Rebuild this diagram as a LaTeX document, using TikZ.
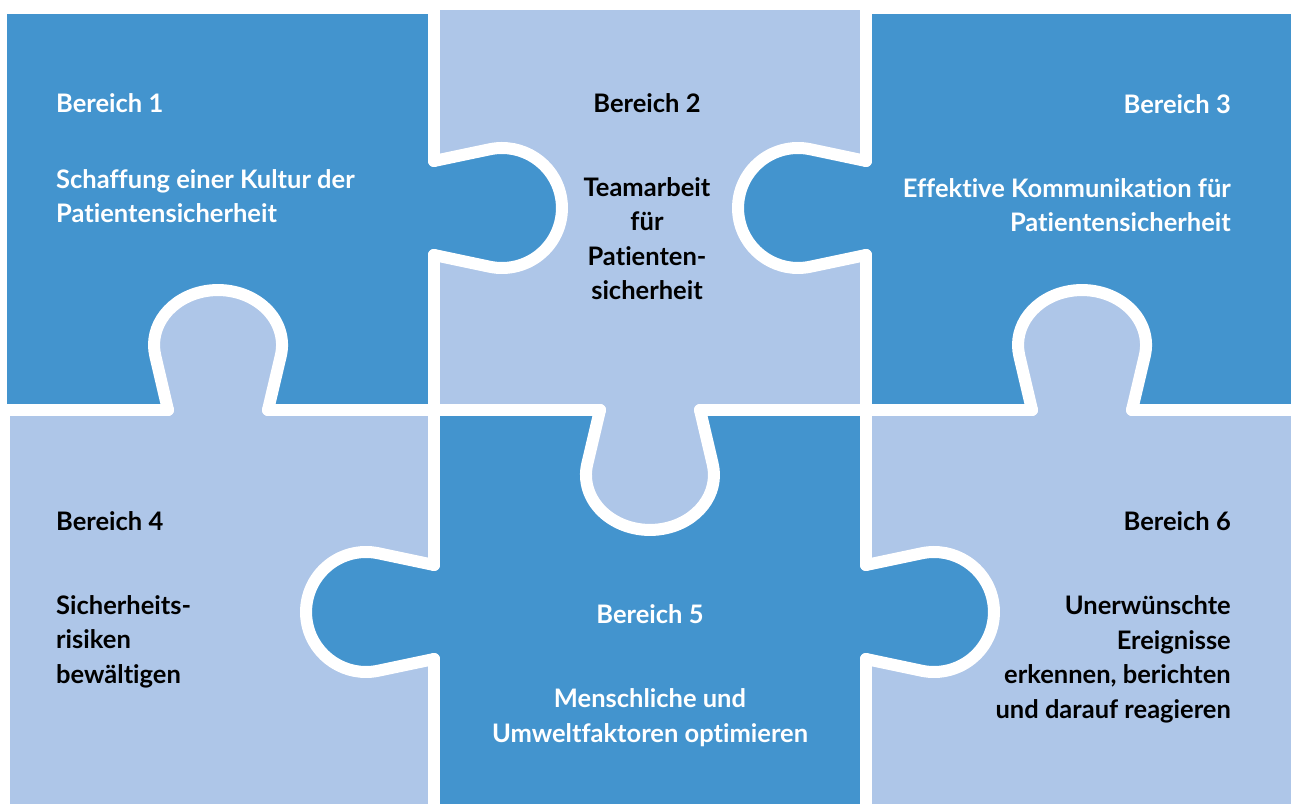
\documentclass[tikz,border=0pt]{standalone}
\usepackage{fontspec}
\setmainfont{Lato}[Ligatures=NoCommon]
\definecolor{pieceDark}{RGB}{67,148,206}
\definecolor{pieceLight}{RGB}{174,198,232}
\tikzset{
  seam/.style={white, line width=12pt, line cap=round, line join=round},
  areatext/.style={font=\bfseries\fontsize{25.5}{34.5}\selectfont, inner sep=0pt},
  sidetab/.pic={
    \fill[pic actions] (0,47) -- (55.6,58.7) arc[start angle=101.9, end angle=-101.9, radius=60] -- (0,-47) -- cycle;
    \draw[seam] (0,47) -- (55.6,58.7) arc[start angle=101.9, end angle=-101.9, radius=60] -- (0,-47);
  },
  knob/.pic={
    \fill[pic actions] (0,50) -- (54.1,62.7) arc[start angle=101.4, end angle=-101.4, x radius=55, y radius=64] -- (0,-50) -- cycle;
    \draw[seam] (0,50) -- (54.1,62.7) arc[start angle=101.4, end angle=-101.4, x radius=55, y radius=64] -- (0,-50);
  }
}
\begin{document}
\begin{tikzpicture}[x=1pt, y=1pt]
\useasboundingbox[fill=white] (0,0) rectangle (1291,804);
% the six cells
\fill[pieceDark] (7,394) rectangle (434,790);
\fill[pieceLight] (434,394) rectangle (866,794);
\fill[pieceDark] (866,394) rectangle (1291,790);
\fill[pieceLight] (10,0) rectangle (434,394);
\fill[pieceDark] (434,0) rectangle (866,394);
\fill[pieceLight] (866,0) rectangle (1291,394);
% tabs and knobs
\pic[fill=pieceDark] at (434,596) {sidetab};
\pic[fill=pieceDark, rotate=180] at (866,596) {sidetab};
\pic[fill=pieceDark, rotate=180] at (434,192) {sidetab};
\pic[fill=pieceDark] at (866,192) {sidetab};
\pic[fill=pieceLight, rotate=90] at (218,394) {knob};
\pic[fill=pieceLight, rotate=-90] at (650,394) {knob};
\pic[fill=pieceLight, rotate=90] at (1082,394) {knob};
% straight seams
\draw[seam] (434,804) -- (434,643) (434,549) -- (434,239) (434,145) -- (434,0);
\draw[seam] (866,804) -- (866,643) (866,549) -- (866,239) (866,145) -- (866,0);
\draw[seam] (0,394) -- (168,394) (268,394) -- (600,394) (700,394) -- (1032,394) (1132,394) -- (1291,394);

\node[areatext, text=white, anchor=base west, align=left] (b1) at (56,581) {Bereich 1\\[41pt]Schaffung einer Kultur der\\Patientensicherheit};
\node[areatext, anchor=base, align=center] (b2) at (647,504) {Bereich 2\\[49.5pt]Teamarbeit\\für\\Patienten-\\sicherheit};
\node[areatext, text=white, anchor=base east, align=right] (b3) at (1231,572) {Bereich 3\\[49.5pt]Effektive Kommunikation für\\Patientensicherheit};
\node[areatext, anchor=base west, align=left] (b4) at (56,121) {Bereich 4\\[49.5pt]Sicherheits-\\risiken\\bewältigen};
\node[areatext, text=white, anchor=base, align=center] (b5) at (650,62) {Bereich 5\\[49.5pt]Menschliche und\\Umweltfaktoren optimieren};
\node[areatext, anchor=base east, align=right] (b6) at (1231,86) {Bereich 6\\[49.5pt]Unerwünschte\\Ereignisse\\erkennen, berichten\\und darauf reagieren};
\end{tikzpicture}
\end{document}
